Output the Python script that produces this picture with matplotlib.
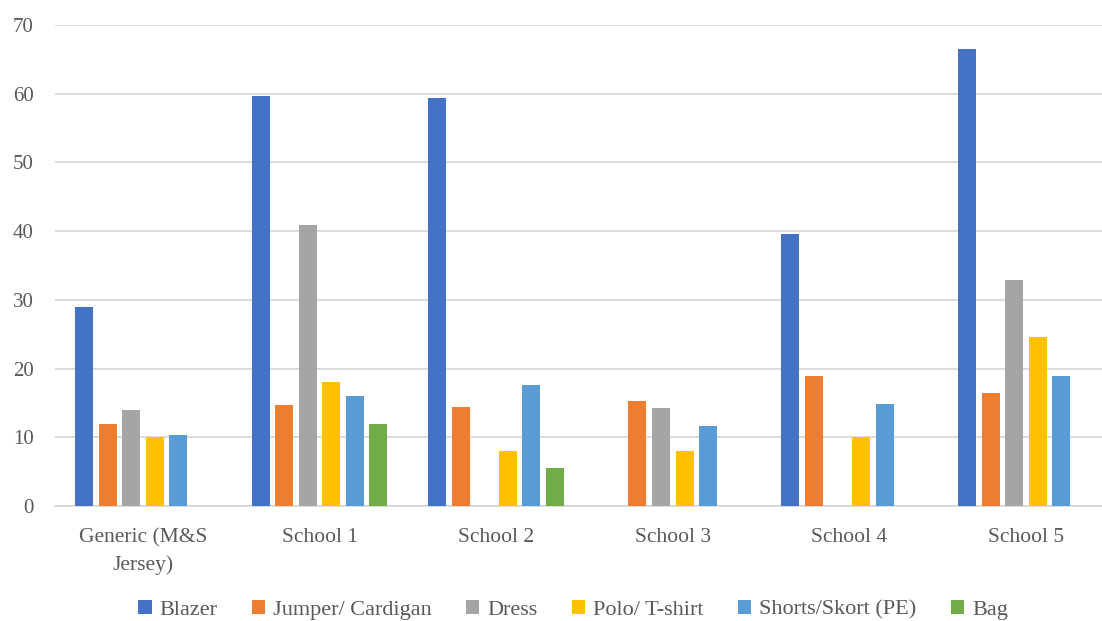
import numpy as np
import matplotlib
matplotlib.use('Agg')
import matplotlib.pyplot as plt

categories = ['Generic (M&S\nJersey)', 'School 1', 'School 2', 'School 3', 'School 4', 'School 5']
series = ['Blazer', 'Jumper/ Cardigan', 'Dress', 'Polo/ T-shirt', 'Shorts/Skort (PE)', 'Bag']
blazer = [29.0, 59.7, 59.4, 0, 39.6, 66.5]
jumper = [12.0, 14.7, 14.4, 15.3, 18.9, 16.4]
dress = [14.0, 40.9, 0, 14.3, 0, 32.9]
polo = [10.0, 18.0, 8.0, 8.0, 10.0, 24.6]
shorts = [10.3, 16.0, 17.6, 11.6, 14.8, 18.9]
bag = [0, 11.9, 5.5, 0, 0, 0]
colors = ['#4472C4', '#ED7D31', '#A5A5A5', '#FFC000', '#5B9BD5', '#70AD47']

plt.rcParams['font.family'] = ['Liberation Serif', 'DejaVu Serif']

fig = plt.figure(figsize=(11.02, 6.21), dpi=100)
ax = fig.add_axes([0.0496, 0.185, 0.9615, 0.775])

x = np.arange(len(categories))
slot = 0.8 / 6
values = [blazer, jumper, dress, polo, shorts, bag]
for i, (name, vals) in enumerate(zip(series, values)):
    ax.bar(x - 0.4 + slot * (i + 0.5), vals, width=0.102, color=colors[i], label=name, zorder=3)

ax.set_xlim(-0.5, len(categories) - 0.5)
ax.set_ylim(0, 70)
ax.set_yticks(range(0, 71, 10))
ax.set_xticks(x)
ax.set_xticklabels(categories, fontsize=15.5, color='#595959', linespacing=1.55)
ax.tick_params(axis='y', labelsize=15, labelcolor='#595959', length=0, pad=15)
ax.tick_params(axis='x', length=0, pad=16)
ax.grid(axis='y', color='#d9d9d9', linewidth=1.3, zorder=0)
for s in ['top', 'right', 'left']:
    ax.spines[s].set_visible(False)
ax.spines['bottom'].set_color('#d9d9d9')
ax.spines['bottom'].set_linewidth(1.3)

fig.legend(loc='center', bbox_to_anchor=(0.52, 0.018), ncol=6, frameon=False,
           fontsize=16, labelcolor='#595959', handlelength=0.6, handleheight=0.6,
           handletextpad=0.35, columnspacing=1.55)

fig.savefig('out.png', dpi=100)
